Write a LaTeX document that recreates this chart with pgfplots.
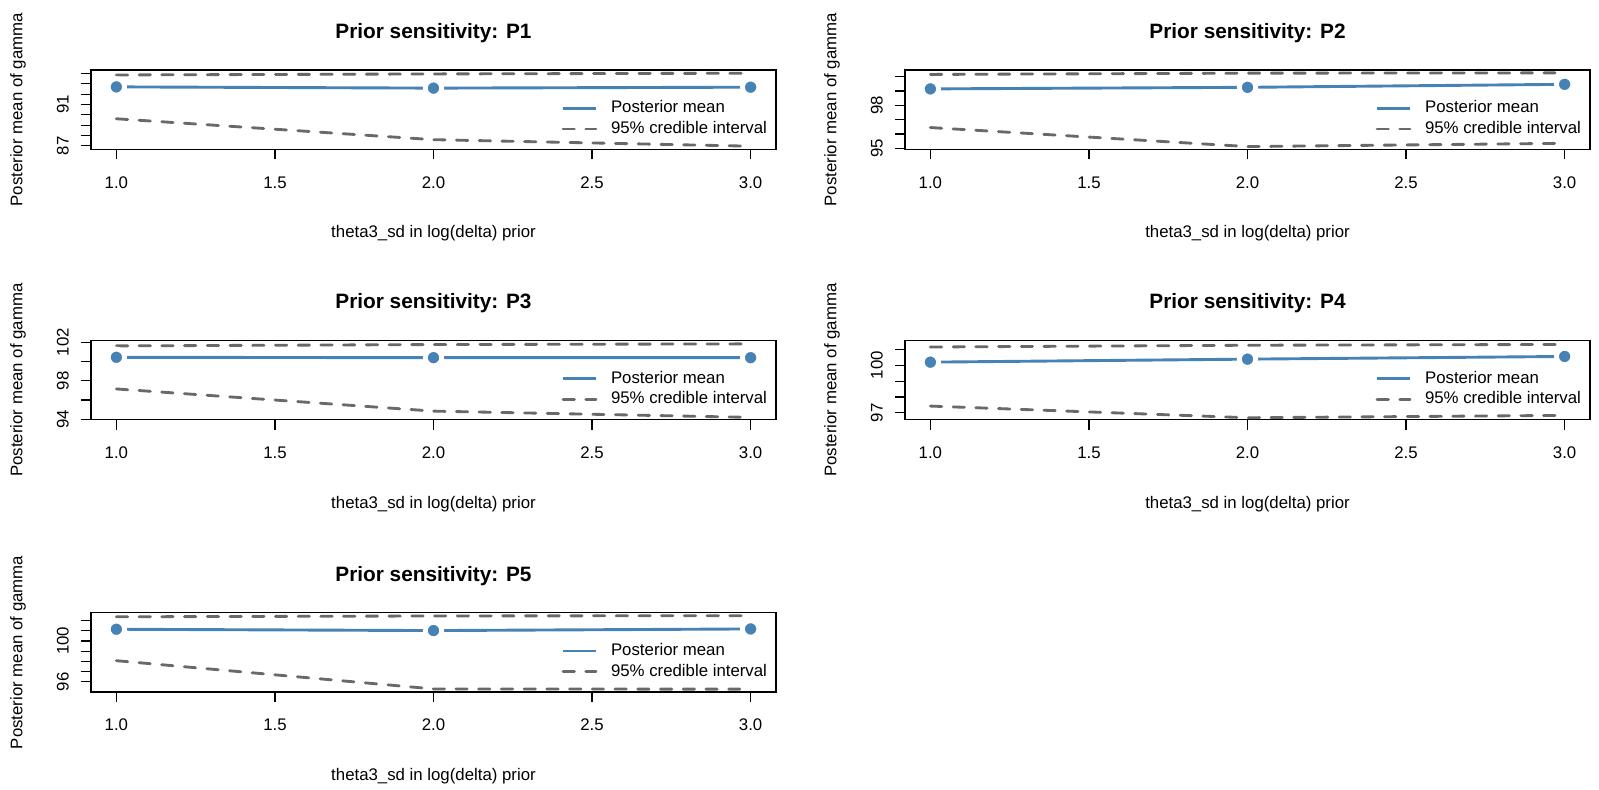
\documentclass[border=0pt]{standalone}
\usepackage{fontspec}
\setmainfont{Liberation Sans}
\usepackage{pgfplots}
\pgfplotsset{compat=1.18}
\definecolor{sb}{RGB}{70,130,180}
\definecolor{cigray}{RGB}{105,105,105}
\pgfplotsset{
 mstyle/.style={sb, line width=1.45pt, mark=*, mark size=4.1pt,
   mark options={fill=sb, draw=white, line width=2.4pt, solid}},
 cistyle/.style={cigray, line width=1.42pt, dash pattern=on 5.68pt off 5.68pt, line cap=round},
 sens/.style={
  scale only axis, width=342.5pt, height=39.65pt,
  xmin=0.92, xmax=3.08,
  xtick={1,1.5,2,2.5,3}, xticklabels={1.0,1.5,2.0,2.5,3.0},
  tick align=outside, major tick length=5pt,
  xtick pos=bottom, ytick pos=left,
  axis line style={line width=0.6pt},
  every tick/.style={black, line width=0.6pt},
  tick label style={font=\fontsize{8.4}{10}\selectfont},
  xticklabel style={anchor=north, inner sep=0pt, text height=6pt, text depth=0pt},
  xticklabel shift=8.2pt,
  yticklabel style={rotate=90, anchor=south, inner sep=0pt, text height=6pt, text depth=0pt},
  yticklabel shift=6pt,
  title style={at={(0.5,1.3153)}, anchor=center, font=\bfseries\fontsize{10.4}{12}\selectfont, inner sep=0pt},
  xlabel style={at={(0.5,-1.0593)}, anchor=center, font=\fontsize{8.4}{10}\selectfont, inner sep=0pt},
  ylabel style={at={(-0.10657,0.5)}, anchor=center, font=\fontsize{8.4}{10}\selectfont, inner sep=0pt},
  xlabel={theta3\_sd in log(delta) prior},
  ylabel={Posterior mean of gamma},
  legend style={at={(0.9883,0.3865)}, anchor=east, draw=none, fill=none,
    inner sep=0pt, outer sep=0pt, row sep=1.75pt,
    nodes={inner sep=0.5pt, text height=6pt, text depth=1.6pt, font=\fontsize{8.4}{10}\selectfont}},
  legend cell align=left,
  legend image code/.code={\draw[##1] (0pt,0pt) -- (16.5pt,0pt); \path[draw=none] (0pt,0pt) -- (23.5pt,0pt);},
 }
}
\begin{document}
\begin{tikzpicture}
\useasboundingbox (0,0) rectangle (799.5pt,394.5pt);

% P1
\begin{axis}[sens, at={(45.5pt,319.85pt)}, anchor=south west,
  ymin=86.67, ymax=94.33, ytick={87,88,89,90,91,92,93,94},
  yticklabels={87,{},{},{},91,{},{},{}}, title={Prior sensitivity: P1}]
\addlegendimage{sb, line width=1.45pt}
\addlegendentry{Posterior mean}
\addlegendimage{cistyle}
\addlegendentry{95\% credible interval}
\addplot[mstyle, forget plot] coordinates {(1,92.70) (2,92.58) (3,92.67)};
\addplot[cistyle, forget plot] coordinates {(1,93.85) (2,93.95) (3,94.02)};
\addplot[cistyle, forget plot] coordinates {(1,89.62) (2,87.60) (3,86.97)};
\end{axis}

% P2
\begin{axis}[sens, at={(452.5pt,319.85pt)}, anchor=south west,
  ymin=94.93, ymax=100.47, ytick={95,96,97,98,99,100},
  yticklabels={95,{},{},98,{},{}}, title={Prior sensitivity: P2}]
\addlegendimage{sb, line width=1.45pt}
\addlegendentry{Posterior mean}
\addlegendimage{cistyle}
\addlegendentry{95\% credible interval}
\addplot[mstyle, forget plot] coordinates {(1,99.15) (2,99.26) (3,99.47)};
\addplot[cistyle, forget plot] coordinates {(1,100.16) (2,100.25) (3,100.27)};
\addplot[cistyle, forget plot] coordinates {(1,96.45) (2,95.12) (3,95.35)};
\end{axis}

% P3
\begin{axis}[sens, at={(45.5pt,184.6pt)}, anchor=south west,
  ymin=93.95, ymax=102.17, ytick={94,96,98,100,102},
  yticklabels={94,{},98,{},102}, title={Prior sensitivity: P3}]
\addlegendimage{sb, line width=1.45pt}
\addlegendentry{Posterior mean}
\addlegendimage{cistyle}
\addlegendentry{95\% credible interval}
\addplot[mstyle, forget plot] coordinates {(1,100.43) (2,100.39) (3,100.39)};
\addplot[cistyle, forget plot] coordinates {(1,101.61) (2,101.75) (3,101.82)};
\addplot[cistyle, forget plot] coordinates {(1,97.15) (2,94.85) (3,94.20)};
\end{axis}

% P4
\begin{axis}[sens, at={(452.5pt,184.6pt)}, anchor=south west,
  ymin=96.55, ymax=101.57, ytick={97,98,99,100,101},
  yticklabels={97,{},{},100,{}}, title={Prior sensitivity: P4}]
\addlegendimage{sb, line width=1.45pt}
\addlegendentry{Posterior mean}
\addlegendimage{cistyle}
\addlegendentry{95\% credible interval}
\addplot[mstyle, forget plot] coordinates {(1,100.20) (2,100.39) (3,100.56)};
\addplot[cistyle, forget plot] coordinates {(1,101.16) (2,101.27) (3,101.32)};
\addplot[cistyle, forget plot] coordinates {(1,97.42) (2,96.68) (3,96.83)};
\end{axis}

% P5
\begin{axis}[sens, at={(45.5pt,48.5pt)}, anchor=south west,
  ymin=95.0, ymax=102.77, ytick={96,97,98,99,100,101,102},
  yticklabels={96,{},{},{},100,{},{}}, title={Prior sensitivity: P5}]
\addlegendimage{sb, line width=1.45pt}
\addlegendentry{Posterior mean}
\addlegendimage{cistyle}
\addlegendentry{95\% credible interval}
\addplot[mstyle, forget plot] coordinates {(1,101.15) (2,101.02) (3,101.18)};
\addplot[cistyle, forget plot] coordinates {(1,102.37) (2,102.45) (3,102.48)};
\addplot[cistyle, forget plot] coordinates {(1,98.07) (2,95.30) (3,95.28)};
\end{axis}
\end{tikzpicture}
\end{document}
